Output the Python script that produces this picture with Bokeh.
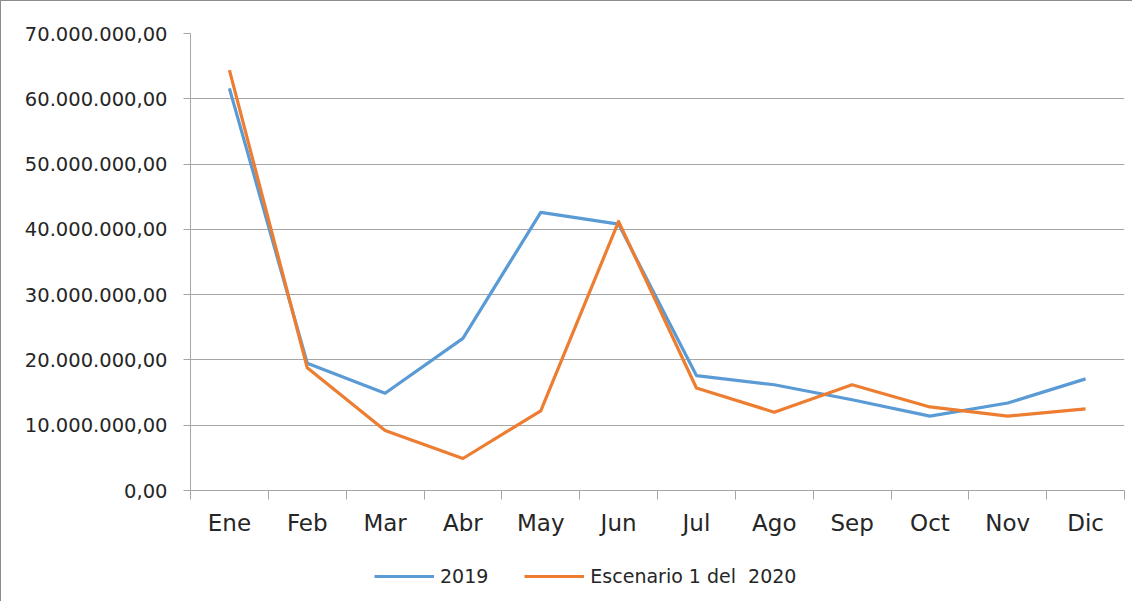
from bokeh.plotting import figure
from bokeh.layouts import column
from bokeh.models import FixedTicker, Legend, LegendItem, Range1d, ColumnDataSource
from bokeh.embed import file_html
from bokeh.resources import INLINE

months = ["Ene", "Feb", "Mar", "Abr", "May", "Jun", "Jul", "Ago", "Sep", "Oct", "Nov", "Dic"]
serie_2019 = [61.6e6, 19.5e6, 14.9e6, 23.3e6, 42.6e6, 40.8e6, 17.6e6, 16.2e6, 13.9e6, 11.4e6, 13.4e6, 17.1e6]
serie_2020 = [64.4e6, 18.8e6, 9.2e6, 4.9e6, 12.2e6, 41.2e6, 15.7e6, 12.0e6, 16.2e6, 12.8e6, 11.4e6, 12.5e6]
y_ticks = [0, 10e6, 20e6, 30e6, 40e6, 50e6, 60e6, 70e6]
y_tick_labels = ["0,00", "10.000.000,00", "20.000.000,00", "30.000.000,00",
                 "40.000.000,00", "50.000.000,00", "60.000.000,00", "70.000.000,00"]
series_names = ["2019", "Escenario 1 del  2020"]

FONT = "DejaVu Sans"
BLUE = "#5B9BD5"
ORANGE = "#ED7D31"
GRID = "#a6a6a6"
BORDER = "1px solid #8c8c8c"

xpos = [i + 0.5 for i in range(len(months))]
src = ColumnDataSource(dict(x=xpos, a=serie_2019, b=serie_2020))

p = figure(width=1132, height=550, output_backend="svg", toolbar_location=None,
           x_range=Range1d(0, len(months)), y_range=Range1d(0, 70e6),
           min_border_left=189, min_border_top=32, min_border_right=9, min_border_bottom=61)
p.styles = {"border-top": BORDER, "border-left": BORDER}
p.outline_line_color = None
p.background_fill_color = "white"
p.border_fill_color = "white"

p.line("x", "a", source=src, line_color=BLUE, line_width=3.2, line_join="round")
p.line("x", "b", source=src, line_color=ORANGE, line_width=3.2, line_join="round")

# y axis
p.yaxis.ticker = FixedTicker(ticks=y_ticks)
p.yaxis.major_label_overrides = {t: l for t, l in zip(y_ticks, y_tick_labels)}
p.yaxis.major_label_text_font = FONT
p.yaxis.major_label_text_font_size = "19.5px"
p.yaxis.major_label_text_color = "#262626"
p.yaxis.major_tick_out = 7
p.yaxis.major_tick_in = 0
p.yaxis.minor_tick_line_color = None
p.yaxis.major_label_standoff = 16
p.yaxis.axis_line_color = GRID
p.yaxis.major_tick_line_color = GRID

# x axis
p.xaxis.ticker = FixedTicker(ticks=xpos, minor_ticks=list(range(len(months) + 1)))
p.xaxis.major_label_overrides = {x: m for x, m in zip(xpos, months)}
p.xaxis.major_label_text_font = FONT
p.xaxis.major_label_text_font_size = "23px"
p.xaxis.major_label_text_color = "#262626"
p.xaxis.major_tick_line_color = None
p.xaxis.minor_tick_out = 9
p.xaxis.minor_tick_in = 0
p.xaxis.minor_tick_line_color = GRID
p.xaxis.axis_line_color = GRID
p.xaxis.major_label_standoff = 10

p.xgrid.grid_line_color = None
p.ygrid.grid_line_color = GRID
p.ygrid.grid_line_width = 1.2

# legend strip below the chart (its ranges keep the series out of view; only the legend shows)
leg = figure(width=1132, height=51, output_backend="svg", toolbar_location=None,
             x_range=Range1d(-2, -1), y_range=Range1d(-2, -1),
             x_axis_location=None, y_axis_location=None,
             min_border_left=189, min_border_right=9, min_border_top=0, min_border_bottom=0)
leg.styles = {"border-left": BORDER}
leg.outline_line_color = None
leg.xgrid.grid_line_color = None
leg.ygrid.grid_line_color = None
l1 = leg.line("x", "a", source=src, line_color=BLUE, line_width=3.2)
l2 = leg.line("x", "b", source=src, line_color=ORANGE, line_width=3.2)

legend = Legend(items=[LegendItem(label=series_names[0], renderers=[l1]),
                       LegendItem(label=series_names[1], renderers=[l2])],
                orientation="horizontal", location=(184, 14))
legend.label_text_font = FONT
legend.label_text_font_size = "19px"
legend.label_text_color = "#262626"
legend.glyph_width = 60
legend.label_standoff = 6
legend.spacing = 36
legend.padding = 5
legend.margin = 0
legend.border_line_color = None
legend.background_fill_alpha = 0
leg.add_layout(legend, "center")

layout = column(p, leg, spacing=0)
open("out.html", "w").write(file_html(layout, INLINE))
